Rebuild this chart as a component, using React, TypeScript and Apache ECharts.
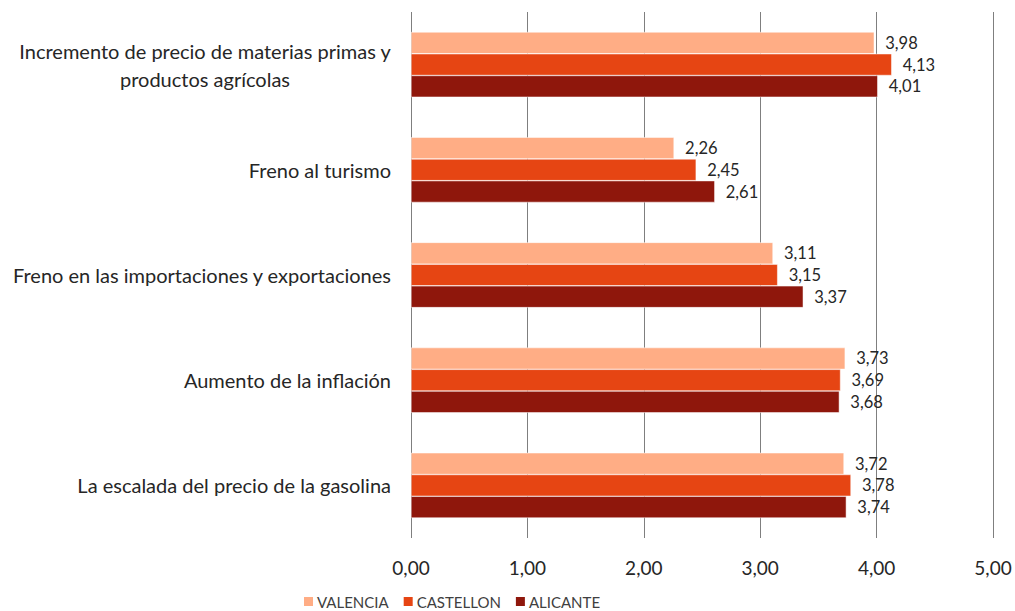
import React, { useEffect, useRef } from "react";
import * as echarts from "echarts";

const categories = [
  "Incremento de precio de materias primas y\nproductos agrícolas",
  "Freno al turismo",
  "Freno en las importaciones y exportaciones",
  "Aumento de la inflación",
  "La escalada del precio de la gasolina",
];
const seriesNames = ["VALENCIA", "CASTELLON", "ALICANTE"];
const valencia = [3.98, 2.26, 3.11, 3.73, 3.72];
const castellon = [4.13, 2.45, 3.15, 3.69, 3.78];
const alicante = [4.01, 2.61, 3.37, 3.68, 3.74];
const colors = ["#FFAD85", "#E64513", "#8F170C"];

const FONT = "Lato";
const CAT_SIZE = 20;

function measure(text: string, size: number): number {
  const c = document.createElement("canvas").getContext("2d")!;
  c.font = `${size}px ${FONT}`;
  return c.measureText(text).width;
}

export default function App() {
  const ref = useRef<HTMLDivElement>(null);
  useEffect(() => {
    const chart = echarts.init(ref.current!, undefined, { renderer: "svg" });
    const fmt = (v: number) => v.toFixed(2).replace(".", ",");
    const data = [valencia, castellon, alicante];
    chart.setOption({
      animation: false,
      textStyle: { fontFamily: FONT },
      grid: { left: 411, right: 22, top: 12, bottom: 73 },
      legend: {
        left: 297,
        bottom: -3,
        itemWidth: 11,
        itemHeight: 11,
        itemGap: 13,
        icon: "rect",
        textStyle: { fontFamily: FONT, fontSize: 15, color: "#404040", padding: [0, 0, 0, -2] },
        data: seriesNames,
      },
      xAxis: {
        type: "value",
        min: 0,
        max: 5,
        interval: 1,
        axisLine: { show: false },
        axisTick: { show: false },
        splitLine: { lineStyle: { color: "#7f7f7f", width: 1 } },
        axisLabel: {
          formatter: (v: number) => fmt(v),
          fontFamily: FONT,
          fontSize: 19,
          color: "#262626",
          margin: 20,
        },
      },
      yAxis: {
        type: "category",
        data: categories,
        inverse: true,
        axisLine: { show: false },
        axisTick: { show: false },
        axisLabel: {
          fontFamily: FONT,
          fontSize: CAT_SIZE,
          color: "#262626",
          margin: 20,
          align: "right",
          lineHeight: 28,
          formatter: (v: string) => {
            const lines = v.split("\n");
            if (lines.length === 1) return v;
            const w = Math.ceil(Math.max(...lines.map((l) => measure(l, CAT_SIZE))));
            return lines.map((l) => `{c${w}|${l}}`).join("\n");
          },
          rich: (() => {
            const r: any = {};
            categories.forEach((cat) => {
              const lines = cat.split("\n");
              if (lines.length > 1) {
                const w = Math.ceil(Math.max(...lines.map((l) => measure(l, CAT_SIZE))));
                r["c" + w] = {
                  width: w,
                  align: "center",
                  fontFamily: FONT,
                  fontSize: CAT_SIZE,
                  color: "#262626",
                  lineHeight: 28,
                };
              }
            });
            return r;
          })(),
        },
      },
      series: seriesNames.map((name, i) => ({
        name,
        type: "bar",
        data: data[i],
        barGap: "0%",
        barCategoryGap: "38%",
        itemStyle: { color: colors[i], borderColor: "#ffffff", borderWidth: 0.5 },
        label: {
          show: true,
          position: "right",
          distance: 11,
          formatter: (p: any) => fmt(p.value),
          fontFamily: FONT,
          fontSize: 16.5,
          color: "#262626",
        },
      })),
    });
    return () => chart.dispose();
  }, []);
  return (
    <div
      ref={ref}
      style={{ position: "fixed", left: 0, top: 0, width: 1015, height: 611, background: "#fff" }}
    />
  );
}
